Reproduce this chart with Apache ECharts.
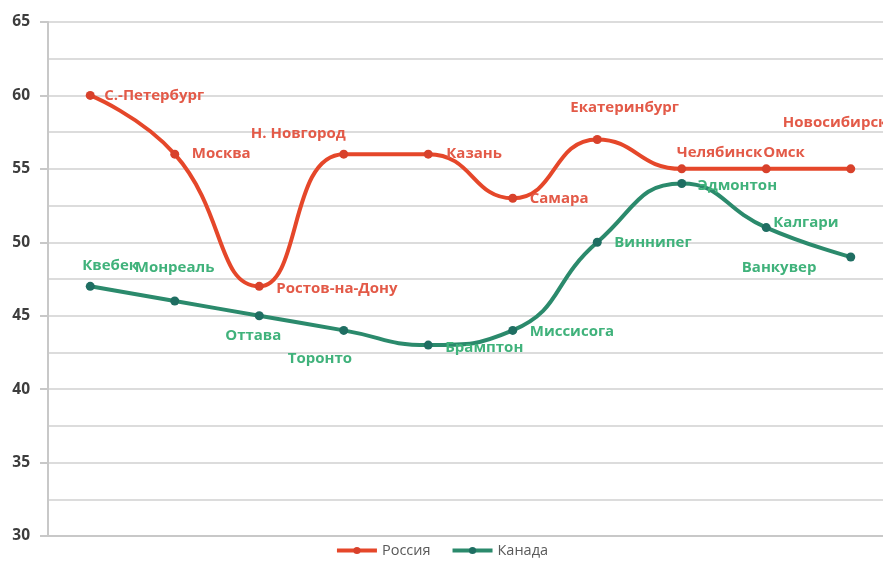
<!DOCTYPE html>
<html>
<head>
<meta charset="utf-8">
<script src="https://cdn.jsdelivr.net/npm/echarts@6/dist/echarts.min.js"></script>
<style>
  html, body { margin: 0; padding: 0; background: #fff; }
  #chart { width: 883px; height: 563px; }
</style>
</head>
<body>
<div id="chart"></div>
<script>
// City names per series (the x axis itself is just the ordinal position)
const russiaCities = ['С.-Петербург', 'Москва', 'Ростов-на-Дону', 'Н. Новгород', 'Казань',
  'Самара', 'Екатеринбург', 'Челябинск', 'Омск', 'Новосибирск'];
const canadaCities = ['Квебек', 'Монреаль', 'Оттава', 'Торонто', 'Брамптон',
  'Миссисога', 'Виннипег', 'Эдмонтон', 'Калгари', 'Ванкувер'];

const russiaValues = [60, 56, 47, 56, 56, 53, 57, 55, 55, 55];
const canadaValues = [47, 46, 45, 44, 43, 44, 50, 54, 51, 49];

const slots = ['1', '2', '3', '4', '5', '6', '7', '8', '9', '10'];

// Label placement (pixel offsets from each point: left edge of text, vertical centre)
const russiaLabelOffsets = [[14, 0], [17, 0], [17, 2], [-93, -20], [18, 0],
  [17, 1], [-27, -32], [-5, -16], [-3, -16], [-68, -46]];
const canadaLabelOffsets = [[-8, -21], [-40, -33], [-34, 20], [-56, 28], [17, 3],
  [17, 1], [17, 0], [16, 2], [7, -5], [-109, 11]];

const RED_LINE = '#e5472a', RED_MARK = '#d8412b', RED_TEXT = '#e35a48';
const GREEN_LINE = '#2b8a6c', GREEN_MARK = '#1f6e62', GREEN_TEXT = '#40b27b';
const LABEL_FONT = '"Open Sans", "Noto Sans", sans-serif';
const SYMBOL = 9;

function buildData(values, names, offsets, color) {
  return values.map((v, i) => ({
    value: v,
    name: names[i],
    label: {
      show: true,
      // position is relative to the symbol's bounding box top-left corner
      position: [SYMBOL / 2 + offsets[i][0], SYMBOL / 2 + offsets[i][1]],
      align: 'left',
      verticalAlign: 'middle',
      formatter: names[i],
      color: color,
      fontFamily: LABEL_FONT,
      fontWeight: 'bold',
      fontSize: 15
    }
  }));
}

const chart = echarts.init(document.getElementById('chart'), null, { renderer: 'canvas' });

chart.setOption({
  animation: false,
  backgroundColor: '#ffffff',
  grid: {
    left: 48, width: 845, top: 22, bottom: 27,
    containLabel: false,
    outerBoundsMode: 'none'
  },
  legend: {
    bottom: 0,
    left: 'center',
    itemWidth: 40,
    itemHeight: 9,
    itemGap: 20,
    lineStyle: { width: 4 },
    textStyle: { color: '#595959', fontSize: 14.5, fontFamily: LABEL_FONT },
    data: ['Россия', 'Канада']
  },
  xAxis: {
    type: 'category',
    data: slots,
    boundaryGap: true,
    axisLine: { show: true, lineStyle: { color: '#c8c8c8', width: 2 } },
    axisTick: { show: false },
    axisLabel: { show: false },
    splitLine: { show: false }
  },
  yAxis: {
    type: 'value',
    min: 30,
    max: 65,
    interval: 5,
    axisLine: { show: true, lineStyle: { color: '#c8c8c8', width: 2 } },
    axisTick: { show: true, length: 8, lineStyle: { color: '#c8c8c8', width: 2 } },
    axisLabel: {
      margin: 18,
      color: '#3d3d3d',
      fontWeight: 'bold',
      fontSize: 15.5,
      fontFamily: LABEL_FONT
    },
    splitLine: { show: true, lineStyle: { color: '#dcdcdc', width: 2 } },
    minorTick: { show: false, splitNumber: 2 },
    minorSplitLine: { show: true, lineStyle: { color: '#dcdcdc', width: 2 } }
  },
  series: [
    {
      name: 'Россия',
      type: 'line',
      smooth: 0.5,
      symbol: 'circle',
      symbolSize: SYMBOL,
      lineStyle: { color: RED_LINE, width: 4 },
      itemStyle: { color: RED_MARK },
      labelLayout: { hideOverlap: false },
      data: buildData(russiaValues, russiaCities, russiaLabelOffsets, RED_TEXT),
      z: 3
    },
    {
      name: 'Канада',
      type: 'line',
      smooth: 0.5,
      symbol: 'circle',
      symbolSize: SYMBOL,
      lineStyle: { color: GREEN_LINE, width: 4 },
      itemStyle: { color: GREEN_MARK },
      labelLayout: { hideOverlap: false },
      data: buildData(canadaValues, canadaCities, canadaLabelOffsets, GREEN_TEXT),
      z: 2
    }
  ]
});
</script>
</body>
</html>
